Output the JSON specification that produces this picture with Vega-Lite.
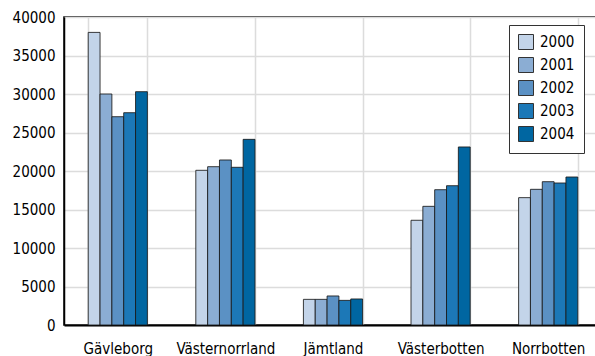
{
  "$schema": "https://vega.github.io/schema/vega-lite/v6.json",
  "width": 538,
  "height": 308,
  "autosize": {"type": "none"},
  "padding": {"left": 64, "top": 17, "right": 0, "bottom": 31},
  "background": "white",
  "config": {
    "font": "DejaVu Sans Condensed",
    "view": {"stroke": "black", "strokeWidth": 1.5},
    "axis": {"labelFont": "DejaVu Sans Condensed", "labelFontSize": 15, "labelColor": "black", "gridColor": "#dcdcdc", "gridWidth": 1.5}
  },
  "data": {
    "values": [
      {"region": "Gävleborg", "year": "2000", "value": 38000},
      {"region": "Gävleborg", "year": "2001", "value": 30000},
      {"region": "Gävleborg", "year": "2002", "value": 27050},
      {"region": "Gävleborg", "year": "2003", "value": 27570},
      {"region": "Gävleborg", "year": "2004", "value": 30300},
      {"region": "Västernorrland", "year": "2000", "value": 20090},
      {"region": "Västernorrland", "year": "2001", "value": 20560},
      {"region": "Västernorrland", "year": "2002", "value": 21430},
      {"region": "Västernorrland", "year": "2003", "value": 20480},
      {"region": "Västernorrland", "year": "2004", "value": 24110},
      {"region": "Jämtland", "year": "2000", "value": 3330},
      {"region": "Jämtland", "year": "2001", "value": 3330},
      {"region": "Jämtland", "year": "2002", "value": 3770},
      {"region": "Jämtland", "year": "2003", "value": 3200},
      {"region": "Jämtland", "year": "2004", "value": 3380},
      {"region": "Västerbotten", "year": "2000", "value": 13600},
      {"region": "Västerbotten", "year": "2001", "value": 15410},
      {"region": "Västerbotten", "year": "2002", "value": 17570},
      {"region": "Västerbotten", "year": "2003", "value": 18090},
      {"region": "Västerbotten", "year": "2004", "value": 23120},
      {"region": "Norrbotten", "year": "2000", "value": 16540},
      {"region": "Norrbotten", "year": "2001", "value": 17620},
      {"region": "Norrbotten", "year": "2002", "value": 18610},
      {"region": "Norrbotten", "year": "2003", "value": 18440},
      {"region": "Norrbotten", "year": "2004", "value": 19220}
    ]
  },
  "mark": {"type": "bar", "stroke": "#1a1a1a", "strokeWidth": 1, "strokeOpacity": 0.85},
  "encoding": {
    "x": {
      "field": "region", "type": "nominal", "sort": null,
      "scale": {"paddingInner": 0.45, "paddingOuter": 0.225},
      "axis": {"title": null, "labelAngle": 0, "ticks": false, "domain": true, "domainColor": "black", "domainWidth": 2, "grid": true, "tickBand": "extent", "labelPadding": 16, "labelBaseline": "top"}
    },
    "xOffset": {"field": "year", "type": "nominal"},
    "y": {
      "field": "value", "type": "quantitative",
      "scale": {"domain": [0, 40000], "nice": false},
      "axis": {"title": null, "values": [0, 5000, 10000, 15000, 20000, 25000, 30000, 35000, 40000], "ticks": false, "domain": true, "domainColor": "black", "domainWidth": 1.5, "labelPadding": 9, "format": "d", "grid": true}
    },
    "color": {
      "field": "year", "type": "nominal",
      "scale": {"domain": ["2000", "2001", "2002", "2003", "2004"], "range": ["#c3d4e9", "#8badd3", "#5b91c4", "#1c78b7", "#0066a1"]},
      "legend": {
        "title": null, "orient": "none", "legendX": 445, "legendY": 8,
        "fillColor": "white", "strokeColor": "#333", "padding": 9,
        "symbolType": "square", "symbolSize": 225, "symbolStrokeColor": "#333", "symbolStrokeWidth": 1,
        "labelFontSize": 15, "labelFont": "DejaVu Sans Condensed", "labelColor": "black", "rowPadding": 3, "labelOffset": 6
      }
    }
  }
}
